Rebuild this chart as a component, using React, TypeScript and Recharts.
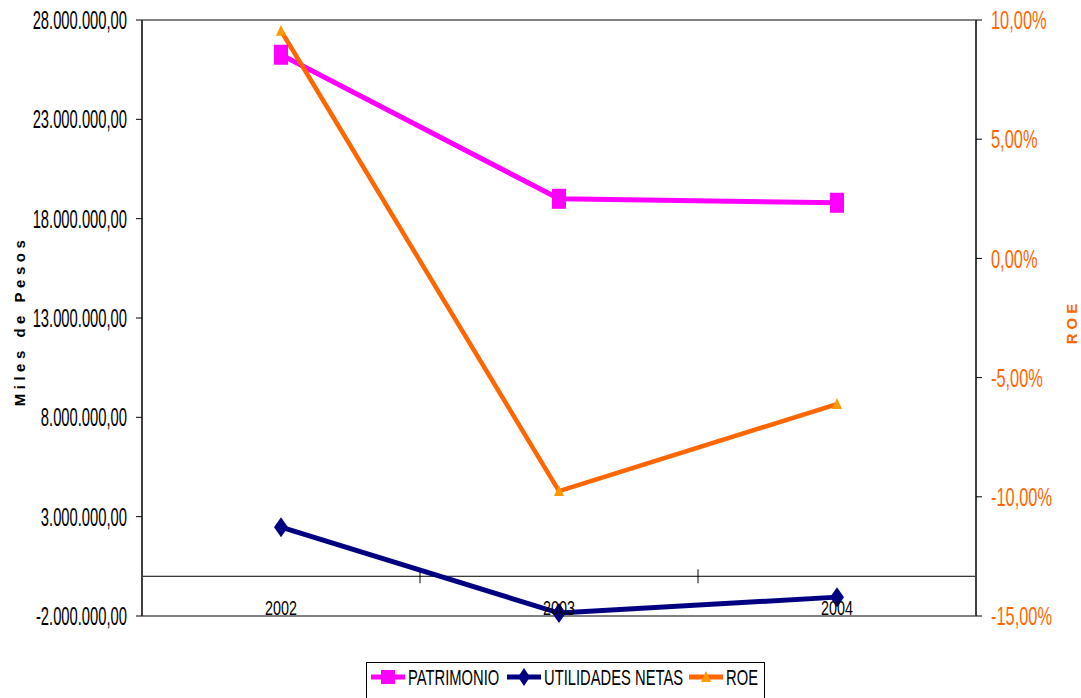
import { LineChart, Line, XAxis, YAxis, ReferenceLine, Legend } from 'recharts'

const years = ['2002', '2003', '2004']
const patrimonio = [26250000, 19000000, 18800000]
const utilidades = [2470000, -1850000, -1050000]
const roe = [0.0955, -0.0976, -0.0611]
const seriesNames = ['PATRIMONIO', 'UTILIDADES NETAS', 'ROE']
const pesosTicks = [-2000000, 3000000, 8000000, 13000000, 18000000, 23000000, 28000000]
const roeTicks = [-0.15, -0.1, -0.05, 0, 0.05, 0.1]

const W = 1081
const H = 710
const LEFT_W = 142
const RIGHT_W = 105
const plotW = W - LEFT_W - RIGHT_W
const halfBand = plotW / years.length / 2

// no narrow face installed: squeeze Liberation Sans horizontally instead
const FONT = "'Liberation Sans', Arial, sans-serif"
const SQX = 0.82
const MAGENTA = '#FF00FF'
const NAVY = '#000080'
const ORANGE = '#FF6600'
const ORANGE_MARK = '#FF9900'

const data = years.map((y, i) => ({
  year: y,
  patrimonio: patrimonio[i],
  utilidades: utilidades[i],
  roe: roe[i],
}))

const fmtPesos = (v: number) =>
  new Intl.NumberFormat('de-DE', { minimumFractionDigits: 2, maximumFractionDigits: 2 }).format(v)
const fmtPct = (v: number) => (v * 100).toFixed(2).replace('.', ',') + '%'

// markers
const Square = (p: any) =>
  p.cx == null ? <g key={p.index} /> : (
    <rect key={p.index} x={p.cx - 7} y={p.cy - 10} width={14} height={20} fill={MAGENTA} />
  )
const Diamond = (p: any) =>
  p.cx == null ? <g key={p.index} /> : (
    <polygon key={p.index} fill={NAVY}
      points={`${p.cx},${p.cy - 10} ${p.cx + 7},${p.cy} ${p.cx},${p.cy + 10} ${p.cx - 7},${p.cy}`} />
  )
const Triangle = (p: any) =>
  p.cx == null ? <g key={p.index} /> : (
    <polygon key={p.index} fill={ORANGE_MARK}
      points={`${p.cx},${p.cy - 6} ${p.cx + 5},${p.cy + 5} ${p.cx - 5},${p.cy + 5}`} />
  )

const LeftTick = ({ x, y, payload }: any) => (
  <g transform={`translate(${x},${y}) scale(${SQX},1.4)`}>
    <text textAnchor="end" dy="0.36em" fontSize={18} fontFamily={FONT} fill="#000">
      {fmtPesos(payload.value)}
    </text>
  </g>
)

const RightTick = ({ x, y, payload }: any) => (
  <g transform={`translate(${x},${y}) scale(${SQX},1.27)`}>
    <text textAnchor="start" dy="0.36em" fontSize={20} fontFamily={FONT} fill={ORANGE}>
      {fmtPct(payload.value)}
    </text>
  </g>
)

const YearTick = ({ x, y, payload }: any) => (
  <g transform={`translate(${x},${y - 1}) scale(${SQX},1.16)`}>
    <text textAnchor="middle" fontSize={17.5} fontFamily={FONT} fill="#000">
      {payload.value}
    </text>
  </g>
)

// category axis drawn at value 0, with boundary ticks
const ZeroAxis = (p: any) => {
  const { x1, x2, y1 } = p
  const step = (x2 - x1) / years.length
  return (
    <g>
      <line x1={x1} x2={x2} y1={y1} y2={y1} stroke="#000" strokeWidth={1} />
      {years.concat(['']).map((_, k) => (
        <line key={k} x1={x1 + k * step} x2={x1 + k * step} y1={y1 - 7} y2={y1 + 7} stroke="#000" strokeWidth={1} />
      ))}
    </g>
  )
}

// legend layout offsets (icon start) inside the box
const legendX = [5, 141, 323]

const LegendIcon = ({ i, x }: { i: number; x: number }) => {
  const color = [MAGENTA, NAVY, ORANGE][i]
  const c = x + 17
  return (
    <g>
      <line x1={x} x2={x + 34} y1={15} y2={15} stroke={color} strokeWidth={5} />
      {i === 0 && <rect x={c - 7} y={8} width={14} height={14} fill={MAGENTA} />}
      {i === 1 && <polygon points={`${c},6 ${c + 6},15 ${c},24 ${c - 6},15`} fill={NAVY} />}
      {i === 2 && <polygon points={`${c},9 ${c + 5},20 ${c - 5},20`} fill={ORANGE_MARK} />}
    </g>
  )
}

const LegendBox = () => (
  <svg width={400} height={42} style={{ display: 'block' }}>
    <rect x={0.5} y={0.5} width={398} height={41} fill="#fff" stroke="#000" strokeWidth={1} />
    {seriesNames.map((n, i) => (
      <g key={n}>
        <LegendIcon i={i} x={legendX[i]} />
        <g transform={`translate(${legendX[i] + 37},${15}) scale(${SQX},1.25)`}>
          <text dy="0.36em" fontSize={18} fontFamily={FONT} fill="#000">{n}</text>
        </g>
      </g>
    ))}
  </svg>
)

export default function App() {
  return (
    <div style={{ position: 'absolute', left: 0, top: 0, width: W, height: 698, overflow: 'hidden', background: '#fff' }}>
      <LineChart width={W} height={H} data={data} margin={{ top: 20, right: 0, bottom: 0, left: 0 }}>
        <XAxis
          dataKey="year" height={94} padding={{ left: halfBand, right: halfBand }}
          axisLine={{ stroke: '#808080', strokeWidth: 2 }} tickLine={false} tickSize={0} tickMargin={0}
          tick={<YearTick />} interval={0}
        />
        <YAxis
          yAxisId="left" width={LEFT_W} domain={[pesosTicks[0], pesosTicks[pesosTicks.length - 1]]}
          ticks={pesosTicks} interval={0} tick={<LeftTick />}
          axisLine={{ stroke: '#404040', strokeWidth: 2 }} tickLine={{ stroke: '#000' }}
          tickSize={6} tickMargin={9}
          label={{
            content: ({ viewBox }: any) => {
              const cx = (viewBox?.x ?? 0) + 20
              const cy = (viewBox?.y ?? 20) + (viewBox?.height ?? 596) / 2 + 3
              return (
                <text x={cx} y={cy} transform={`rotate(-90, ${cx}, ${cy})`} textAnchor="middle" dy="0.35em"
                  fontSize={15} fontWeight="bold" fontFamily={FONT} letterSpacing={4.5} fill="#000">
                  Miles de Pesos
                </text>
              )
            },
          }}
        />
        <YAxis
          yAxisId="right" orientation="right" width={RIGHT_W} domain={[roeTicks[0], roeTicks[roeTicks.length - 1]]}
          ticks={roeTicks} interval={0} tick={<RightTick />}
          axisLine={{ stroke: '#404040', strokeWidth: 2 }} tickLine={{ stroke: '#000' }}
          tickSize={6} tickMargin={9}
          label={{
            content: ({ viewBox }: any) => {
              const cx = (viewBox?.x ?? 976) + 96
              const cy = (viewBox?.y ?? 20) + (viewBox?.height ?? 596) / 2 + 4
              return (
                <text x={cx} y={cy} transform={`rotate(-90, ${cx}, ${cy})`} textAnchor="middle" dy="0.35em"
                  fontSize={15} fontWeight="bold" fontFamily={FONT} letterSpacing={4} fill={ORANGE}>
                  ROE
                </text>
              )
            },
          }}
        />
        <ReferenceLine yAxisId="left" y={pesosTicks[pesosTicks.length - 1]} stroke="#808080" strokeWidth={2} />
        <ReferenceLine yAxisId="left" y={0} shape={<ZeroAxis />} />
        <Legend verticalAlign="middle" align="center" layout="horizontal"
          wrapperStyle={{ top: 662, left: 366, width: 'auto', height: 'auto' }}
          content={<LegendBox />} />
        <Line yAxisId="left" dataKey="patrimonio" name={seriesNames[0]} stroke={MAGENTA} strokeWidth={5}
          dot={Square} activeDot={false} isAnimationActive={false} />
        <Line yAxisId="left" dataKey="utilidades" name={seriesNames[1]} stroke={NAVY} strokeWidth={5}
          dot={Diamond} activeDot={false} isAnimationActive={false} />
        <Line yAxisId="right" dataKey="roe" name={seriesNames[2]} stroke={ORANGE} strokeWidth={4.5}
          dot={Triangle} activeDot={false} isAnimationActive={false} />
      </LineChart>
    </div>
  )
}
